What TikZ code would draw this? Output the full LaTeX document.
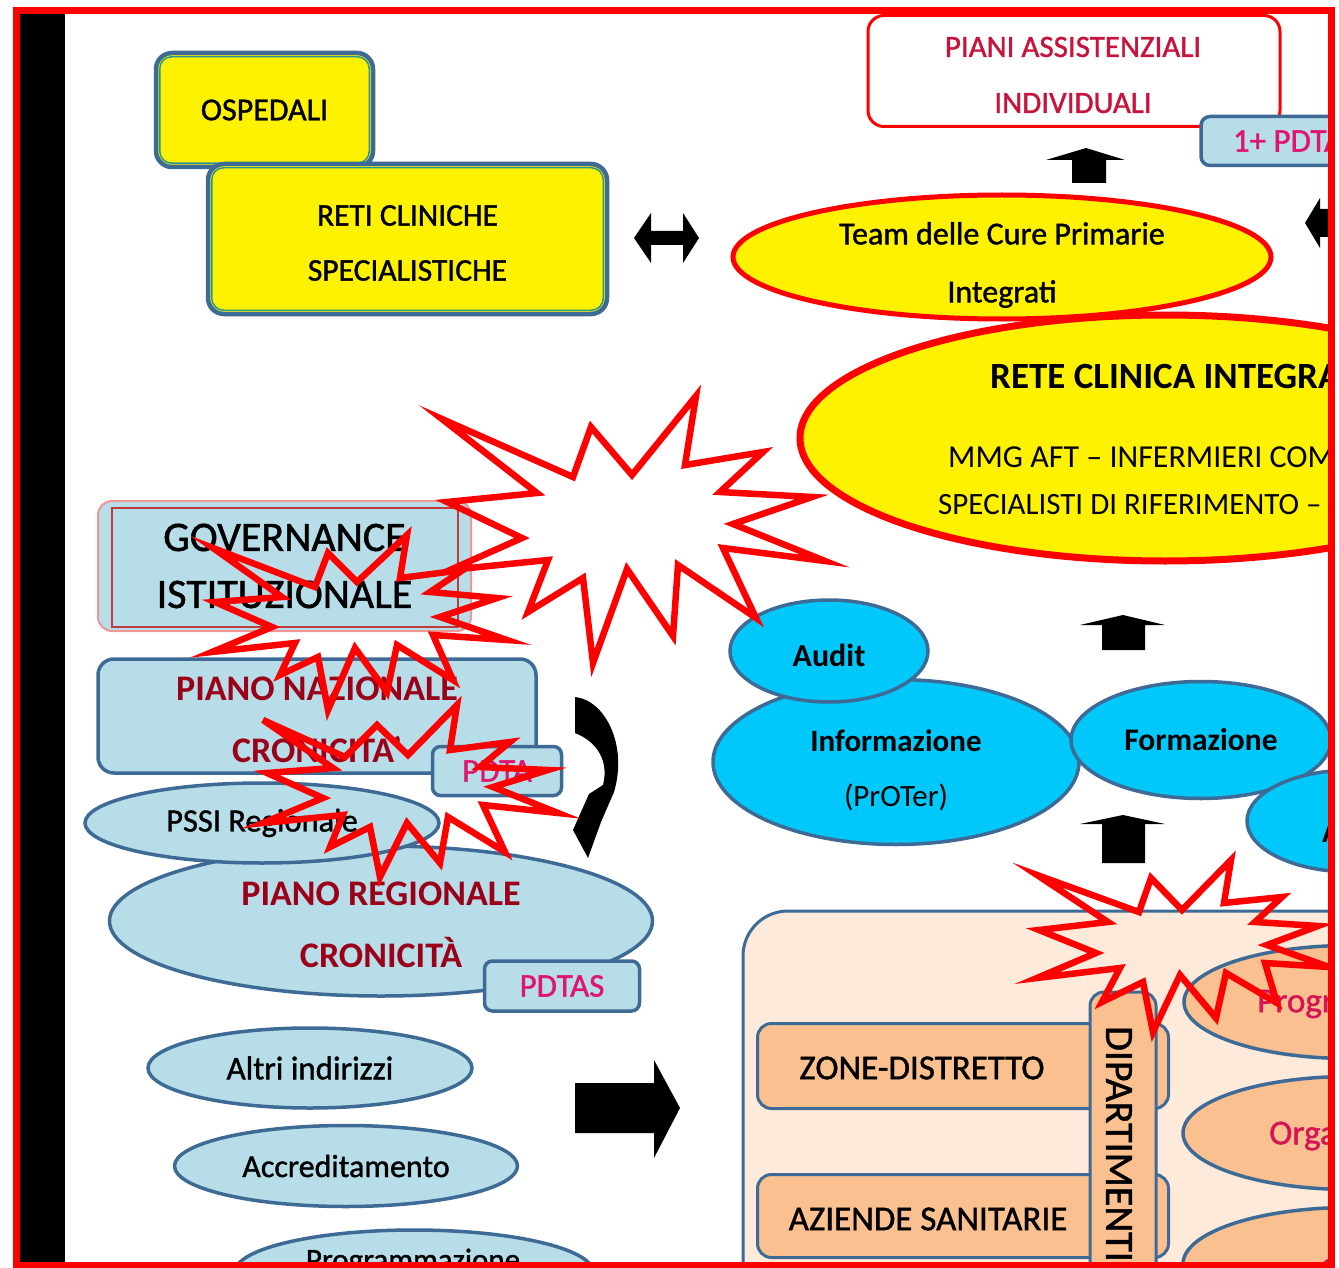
\documentclass[tikz,border=0pt]{standalone}
\usepackage{fontspec}
\setmainfont{Carlito}
\newfontfamily\midfont[FakeBold=1.2]{Carlito}
\usetikzlibrary{shapes.geometric}
\definecolor{boxblue}{RGB}{62,106,150}
\definecolor{tealline}{RGB}{40,150,150}
\definecolor{lightblue}{RGB}{183,221,232}
\definecolor{skycyan}{RGB}{0,200,250}
\definecolor{peachbg}{RGB}{253,234,218}
\definecolor{peachbox}{RGB}{250,192,144}
\definecolor{darkred}{RGB}{155,0,25}
\definecolor{crimson}{RGB}{200,20,60}
\definecolor{pinktext}{RGB}{225,20,110}
\definecolor{progpink}{RGB}{215,20,85}
\definecolor{pinkedge}{RGB}{240,150,150}
\definecolor{govred}{RGB}{190,60,60}
\newcommand\fsz[2]{\fontsize{#1}{#2}\selectfont}
\begin{document}
\begin{tikzpicture}[x=1pt,y=-1pt,
  ybox/.style={draw=boxblue,line width=4.5pt,fill=yellow,rounded corners=16pt},
  innerline/.style={draw=tealline,line width=1.5pt,rounded corners=12pt},
  lbbox/.style={draw=boxblue,line width=3.5pt,fill=lightblue,rounded corners=12pt},
  lbell/.style={ellipse,draw=boxblue,line width=3.5pt,fill=lightblue},
  cyell/.style={ellipse,draw=boxblue,line width=3.5pt,fill=skycyan},
  yell/.style={ellipse,draw=red,fill=yellow},
  pkbox/.style={draw=boxblue,line width=3pt,fill=peachbox,rounded corners=14pt},
  pkell/.style={ellipse,draw=boxblue,line width=3.5pt,fill=peachbox},
  burst/.style={draw=red,line width=6.5pt,line join=miter},
  blockarrow/.style={fill=black}]
\tikzstyle{every node}+=[inner sep=0pt]
\useasboundingbox (0,0) rectangle (1339,1268);
\fill[white] (0,0) rectangle (1339,1268);
\begin{scope}
\clip (16,10) rectangle (1331,1265);
\fill[black] (19,10) rectangle (65,1265);

\node[ybox,minimum width=217pt,minimum height=114pt,font=\midfont\fsz{32}{32}] (osp) at (264.5,110) {OSPEDALI};
\draw[innerline] ([shift={(6,6)}]osp.north west) rectangle ([shift={(-6,-6)}]osp.south east);
\node[ybox,minimum width=399pt,minimum height=150pt] (reti) at (407.5,239) {};
\draw[innerline] ([shift={(6,6)}]reti.north west) rectangle ([shift={(-6,-6)}]reti.south east);
\node[font=\midfont\fsz{31.5}{55},align=center] (retitxt) at (407.5,243) {RETI CLINICHE\\SPECIALISTICHE};
\fill[blockarrow] (634,238) -- (651,213) -- (651,231) -- (683,231) -- (683,213) -- (699,238) -- (683,263) -- (683,245) -- (651,245) -- (651,263) -- cycle;

\node[draw=red,line width=3pt,fill=white,rounded corners=16pt,minimum width=412pt,minimum height=111pt] (piani) at (1074,71) {};
\node[font=\midfont\fsz{31}{56},text=crimson,align=center] (pianitxt) at (1073,75) {PIANI ASSISTENZIALI\\INDIVIDUALI};
\node[lbbox,rounded corners=9pt,minimum width=174pt,minimum height=49pt,font=\midfont\fsz{33}{33},text=pinktext] (pdtaone) at (1288,141) {1+ PDTA};
\fill[blockarrow] (1072,183) -- (1072,160) -- (1046,160) -- (1086,148) -- (1125,160) -- (1106,160) -- (1106,183) -- cycle;
\fill[blockarrow] (1305,223) -- (1320,198) -- (1320,209) -- (1345,209) -- (1345,237) -- (1320,237) -- (1320,248) -- cycle;

\node[yell,line width=5pt,minimum width=538pt,minimum height=124pt] (team) at (1002,257) {};
\node[font=\midfont\fsz{32}{58},align=center] (teamtxt) at (1002,265) {Team delle Cure Primarie\\Integrati};
\node[yell,line width=7pt,minimum width=730pt,minimum height=246pt] (rete) at (1165,438) {};
\node[anchor=west,font=\bfseries\fsz{37}{37}] (retetit) at (990,376) {RETE CLINICA INTEGRA};
\node[anchor=west,font=\fsz{32}{32}] (reteone) at (948,457) {MMG AFT – INFERMIERI COM};
\node[anchor=west,font=\fsz{31}{31}] (retetwo) at (938,505) {SPECIALISTI DI RIFERIMENTO –};

\node[draw=pinkedge,line width=2pt,fill=lightblue,rounded corners=14pt,minimum width=373pt,minimum height=130pt,font=\midfont\fsz{42}{57},align=center] (gov) at (284.5,566) {GOVERNANCE\\ISTITUZIONALE};
\draw[govred,line width=1.5pt] ([shift={(15,8)}]gov.north west) rectangle ([shift={(-14,-5)}]gov.south east);

\node[lbbox,rounded corners=16pt,minimum width=438pt,minimum height=114pt] (pnc) at (317,716) {};
\node[font=\bfseries\fsz{36}{62},align=center,text=darkred] (pnctxt) at (317,720) {PIANO NAZIONALE\\CRONICITA'};
\node[lbbox,rounded corners=8pt,minimum width=129pt,minimum height=49pt,font=\midfont\fsz{33}{33},text=pinktext] (pdta) at (497,771) {PDTA};
\fill[blockarrow] (575,697) .. controls (605,700) and (628,745) .. (614,792) -- (601,822) -- (588,858) -- (573,830) -- (589,794) -- (603,785) .. controls (609,762) and (598,742) .. (575,733) -- cycle;

\node[lbell,minimum width=543pt,minimum height=150pt] (prc) at (381,921) {};
\node[font=\bfseries\fsz{36}{62},align=center,text=darkred] (prctxt) at (381,925) {PIANO REGIONALE\\CRONICITÀ};
\node[lbbox,rounded corners=8pt,minimum width=155pt,minimum height=50pt,font=\midfont\fsz{33}{33},text=pinktext] (pdtas) at (562,986) {PDTAS};
\node[lbell,minimum width=354pt,minimum height=80pt,font=\midfont\fsz{32.5}{32.5}] (pssi) at (262,823) {PSSI Regionale};
\node[lbell,minimum width=324pt,minimum height=80pt,font=\midfont\fsz{33}{33}] (altri) at (310,1068) {Altri indirizzi};
\node[lbell,minimum width=343pt,minimum height=81pt,font=\midfont\fsz{32}{32}] (accr) at (346,1166) {Accreditamento};
\node[lbell,minimum width=358pt,minimum height=84pt] (prog) at (414,1272) {};
\node[font=\midfont\fsz{31}{31}] (progtxt) at (413,1262) {Programmazione};
\fill[blockarrow] (575,1083) -- (654,1083) -- (654,1060) -- (680,1108) -- (654,1158) -- (654,1133) -- (575,1133) -- cycle;

\node[cyell,minimum width=366pt,minimum height=165pt] (info) at (896,762) {};
\node[font=\fsz{31}{55},align=center] (infotxt) at (896,770) {\textbf{Informazione}\\(PrOTer)};
\node[cyell,minimum width=198pt,minimum height=102pt] (audit) at (829,651) {};
\node[font=\bfseries\fsz{32}{32}] (audittxt) at (829,655) {Audit};
\node[cyell,minimum width=260pt,minimum height=117pt,font=\bfseries\fsz{31.5}{31.5}] (forma) at (1201,740) {Formazione};
\node[cyell,minimum width=210pt,minimum height=102pt] (cyanr) at (1352,821) {};
\node[anchor=west,font=\bfseries\fsz{32}{32}] (cyanrtxt) at (1322,832) {A};
\fill[blockarrow] (1102,650) -- (1102,625) -- (1080,625) -- (1123,615) -- (1165,625) -- (1145,625) -- (1145,650) -- cycle;
\fill[blockarrow] (1102,863) -- (1102,824) -- (1080,824) -- (1123,815) -- (1165,824) -- (1145,824) -- (1145,863) -- cycle;

\draw[draw=boxblue,line width=3pt,fill=peachbg,rounded corners=45pt] (743,911) rectangle (1420,1330);
\node[pkbox,minimum width=411pt,minimum height=85pt] (zone) at (963,1066) {};
\node[font=\midfont\fsz{35}{35}] (zonetxt) at (922,1068) {ZONE-DISTRETTO};
\node[pkbox,minimum width=411pt,minimum height=83pt] (azi) at (963,1216) {};
\node[font=\midfont\fsz{35}{35}] (azitxt) at (928,1219) {AZIENDE SANITARIE};
\node[pkbox,minimum width=66pt,minimum height=340pt] (dip) at (1123,1162) {};
\node[rotate=-90,anchor=west,font=\midfont\fsz{40}{40}] (diptxt) at (1119,1026) {DIPARTIMENTI};
\node[pkell,minimum width=330pt,minimum height=113pt] (progr) at (1349,1002) {};
\node[anchor=west,font=\midfont\fsz{35}{35},text=progpink] (progrtxt) at (1257,1004) {Progr};
\node[pkell,minimum width=334pt,minimum height=113pt] (orga) at (1350,1133) {};
\node[anchor=west,font=\midfont\fsz{35}{35},text=progpink] (orgatxt) at (1269,1136) {Orga};
\node[pkell,minimum width=334pt,minimum height=113pt] (third) at (1350,1264) {};
\node[anchor=west,font=\midfont\fsz{35}{35},text=progpink] (thirdtxt) at (1320,1270) {C};

\draw[burst] (442,419) -- (573,477) -- (591,427) -- (632,475) -- (696,396) -- (685,465) -- (763,452) -- (720,492) -- (812,497) -- (733,524) -- (825,561) -- (723,548) -- (756,618) -- (678,565) -- (673,636) -- (627,569) -- (593,663) -- (583,578) -- (528,612) -- (548,560) -- (450,570) -- (522,538) -- (447,502) -- (537,493) -- cycle;
\draw[burst] (213,548) -- (315,587) -- (328,553) -- (357,582) -- (407,535) -- (400,578) -- (463,570) -- (430,592) -- (497,598) -- (440,617) -- (507,640) -- (433,635) -- (453,680) -- (397,645) -- (387,692) -- (355,648) -- (328,710) -- (318,657) -- (280,675) -- (295,643) -- (212,652) -- (272,627) -- (215,602) -- (282,597) -- cycle;
\draw[burst] (263,720) -- (345,757) -- (377,725) -- (408,755) -- (457,705) -- (450,750) -- (510,742) -- (480,767) -- (548,770) -- (493,787) -- (558,813) -- (483,805) -- (505,852) -- (448,817) -- (440,863) -- (407,823) -- (380,877) -- (370,827) -- (330,847) -- (343,815) -- (263,823) -- (323,798) -- (267,773) -- (333,768) -- cycle;
\draw[burst] (1037,875) -- (1139,912) -- (1151,878) -- (1182,910) -- (1231,860) -- (1224,903) -- (1282,897) -- (1255,922) -- (1318,926) -- (1267,945) -- (1329,967) -- (1265,963) -- (1277,1003) -- (1226,973) -- (1216,1018) -- (1180,975) -- (1153,1032) -- (1143,982) -- (1102,1002) -- (1120,968) -- (1037,978) -- (1096,953) -- (1039,930) -- (1108,922) -- cycle;
\end{scope}
\draw[red,line width=7pt] (16,10.5) rectangle (1331,1265);
\end{tikzpicture}
\end{document}
